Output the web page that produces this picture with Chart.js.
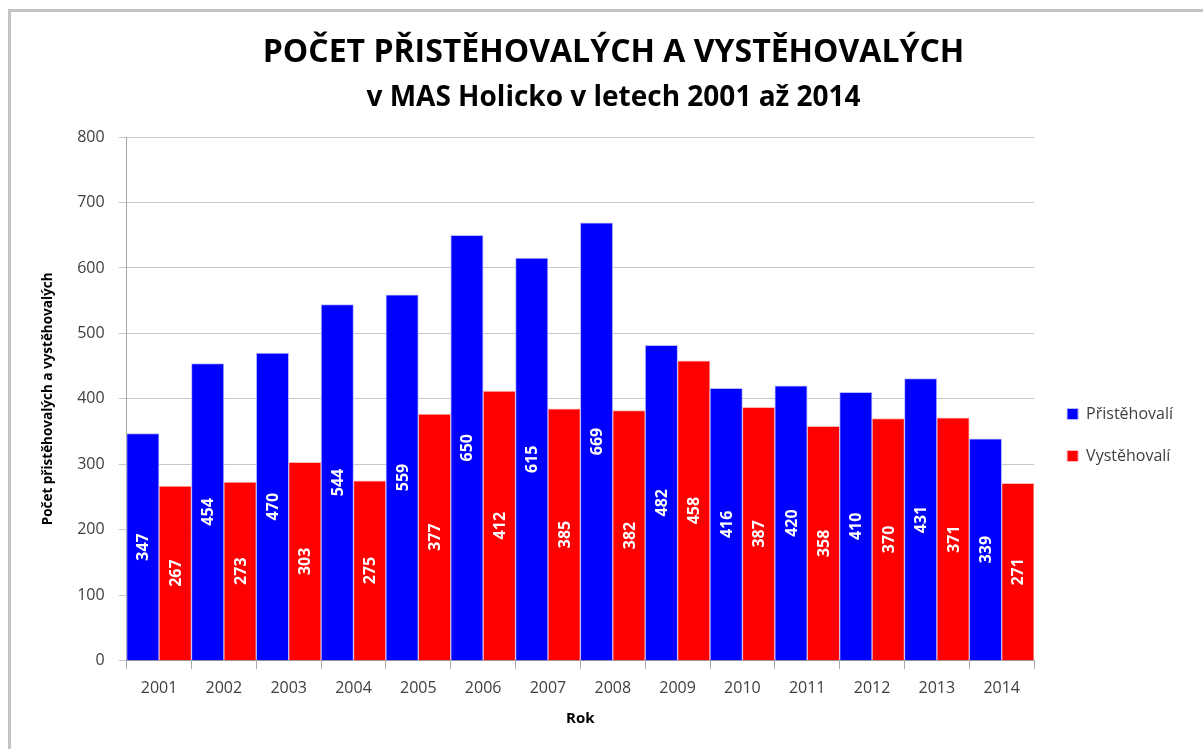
<!DOCTYPE html>
<html>
<head>
<meta charset="utf-8">
<script src="https://cdn.jsdelivr.net/npm/chart.js@4"></script>
<style>
  html, body { margin: 0; padding: 0; background: #fff; }
  #wrap { position: relative; width: 1203px; height: 749px; overflow: hidden; }
  #frame { position: absolute; left: 8px; top: 9px; width: 1300px; height: 900px; border: 3px solid #c4c4c4; box-sizing: border-box; }
  canvas { position: absolute; left: 0; top: 0; }
</style>
</head>
<body>
<div id="wrap">
  <div id="frame"></div>
  <canvas id="myChart" width="1203" height="749"></canvas>
</div>
<script>
// data
var roky = ['2001', '2002', '2003', '2004', '2005', '2006', '2007', '2008', '2009', '2010', '2011', '2012', '2013', '2014'];
var pristehovali = [347, 454, 470, 544, 559, 650, 615, 669, 482, 416, 420, 410, 431, 339];
var vystehovali = [267, 273, 303, 275, 377, 412, 385, 382, 458, 387, 358, 370, 371, 271];
var osaY = [0, 100, 200, 300, 400, 500, 600, 700, 800];

var pismo = "'Open Sans', 'Noto Sans', sans-serif";

// white vertical numbers in the middle of every bar
var popisky = {
    id: 'popisky',
    afterDatasetsDraw: function (chart) {
        var ctx = chart.ctx;
        ctx.save();
        ctx.fillStyle = '#ffffff';
        ctx.font = 'bold 16px ' + pismo;
        ctx.textAlign = 'center';
        ctx.textBaseline = 'middle';
        chart.data.datasets.forEach(function (ds, i) {
            chart.getDatasetMeta(i).data.forEach(function (bar, j) {
                var stred = (bar.y + bar.base) / 2;
                ctx.save();
                ctx.translate(bar.x, stred);
                ctx.rotate(-Math.PI / 2);
                ctx.fillText(String(ds.data[j]), 0, 1);
                ctx.restore();
            });
        });
        ctx.restore();
    }
};

// nudge the legend away from the plot and the titles a bit to the right
var posuny = {
    id: 'posuny',
    afterLayout: function (chart) {
        chart.boxes.forEach(function (box) {
            if (box === chart.legend) {
                box.left += 7;
                box.right += 7;
            } else if (box.position === 'top' && box.options && box.options.text !== undefined) {
                box.left += 9;
                box.right += 9;
            }
        });
    }
};

var ctx = document.getElementById('myChart').getContext('2d');
var chart = new Chart(ctx, {
    type: 'bar',
    data: {
        labels: roky,
        datasets: [{
            label: 'Přistěhovalí',
            backgroundColor: '#0000ff',
            borderColor: '#b8b8ff',
            borderWidth: 1,
            data: pristehovali
        }, {
            label: 'Vystěhovalí',
            backgroundColor: '#ff0000',
            borderColor: '#ffb8b8',
            borderWidth: 1,
            data: vystehovali
        }]
    },
    options: {
        responsive: false,
        animation: false,
        layout: { padding: { left: 33, right: 27, top: 34, bottom: 21 } },
        datasets: { bar: { categoryPercentage: 1.0, barPercentage: 1.0 } },
        plugins: {
            title: {
                display: true,
                text: 'POČET PŘISTĚHOVALÝCH A VYSTĚHOVALÝCH',
                color: '#000',
                font: { family: pismo, size: 32, weight: 'bold' },
                padding: { top: 0, bottom: 9 }
            },
            subtitle: {
                display: true,
                text: 'v MAS Holicko v letech 2001 až 2014',
                color: '#000',
                font: { family: pismo, size: 28, weight: 'bold' },
                padding: { top: 0, bottom: 22 }
            },
            legend: {
                position: 'right',
                title: { display: true, text: ' ', padding: 48, font: { size: 10 } },
                labels: {
                    boxWidth: 11,
                    boxHeight: 11,
                    padding: 26,
                    color: '#404040',
                    font: { family: pismo, size: 16 }
                }
            },
            tooltip: { enabled: false }
        },
        scales: {
            x: {
                grid: { display: true, drawOnChartArea: false, drawTicks: true, tickLength: 8, color: '#a6a6a6' },
                border: { color: '#a6a6a6' },
                ticks: { color: '#404040', font: { family: pismo, size: 16 }, padding: 10 },
                title: { display: true, text: 'Rok', color: '#000', font: { family: pismo, size: 15, weight: 'bold' }, padding: { top: 2, bottom: 0 } }
            },
            y: {
                min: 0,
                max: 800,
                afterBuildTicks: function (axis) {
                    axis.ticks = osaY.map(function (v) { return { value: v }; });
                },
                grid: { color: '#c8c8c8', tickLength: 8 },
                border: { color: '#a6a6a6' },
                ticks: { color: '#404040', font: { family: pismo, size: 16 }, padding: 14 },
                title: { display: true, text: 'Počet přistěhovalých a vystěhovalých', color: '#000', font: { family: pismo, size: 13.5, weight: 'bold' }, padding: 7 }
            }
        }
    },
    plugins: [popisky, posuny]
});
</script>
</body>
</html>
